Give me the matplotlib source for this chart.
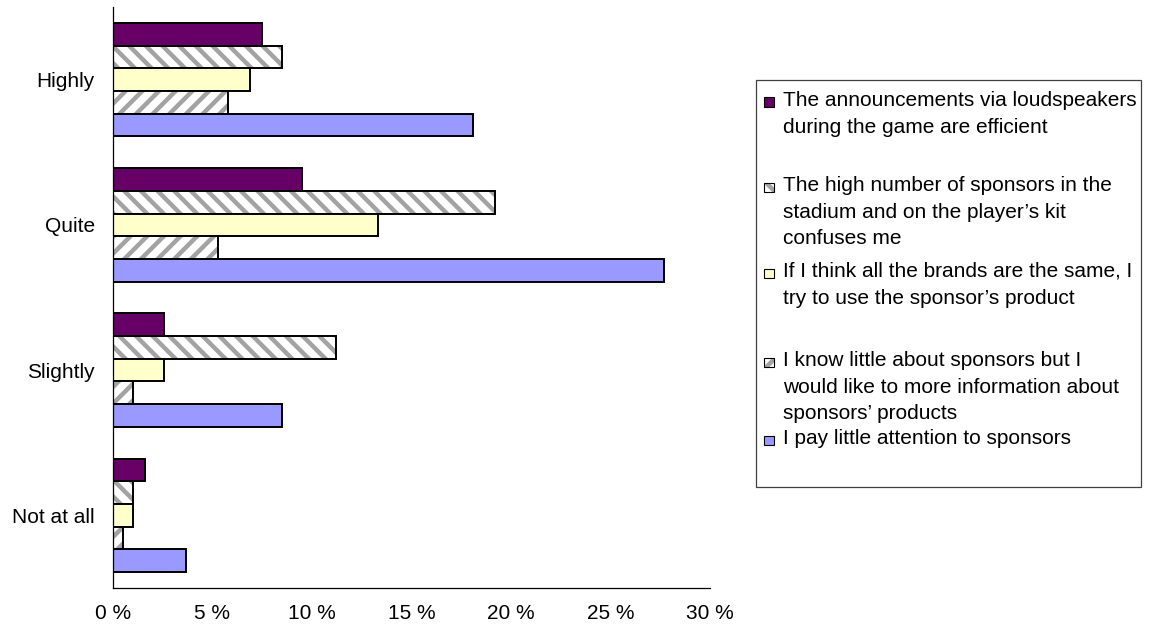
import numpy as np
import matplotlib
matplotlib.use('Agg')
import matplotlib.pyplot as plt
from matplotlib.patches import Rectangle

# share of answers (%) per statement, categories top to bottom
categories = ['Highly', 'Quite', 'Slightly', 'Not at all']
announcements = [7.5, 9.5, 2.6, 1.6]
many_sponsors = [8.5, 19.2, 11.2, 1.0]
same_brands = [6.9, 13.3, 2.6, 1.0]
more_info = [5.8, 5.3, 1.0, 0.5]
little_attention = [18.1, 27.7, 8.5, 3.7]

series_labels = [
    'The announcements via loudspeakers\nduring the game are efficient',
    'The high number of sponsors in the\nstadium and on the player\u2019s kit\nconfuses me',
    'If I think all the brands are the same, I\ntry to use the sponsor\u2019s product',
    'I know little about sponsors but I\nwould like to more information about\nsponsors\u2019 products',
    'I pay little attention to sponsors',
]
xticks = [0, 5, 10, 15, 20, 25, 30]

series = [announcements, many_sponsors, same_brands, more_info, little_attention]
styles = [
    dict(color='#660066', hatch=None),
    dict(color='white', hatch='\\\\'),
    dict(color='#FFFFCC', hatch=None),
    dict(color='white', hatch='//'),
    dict(color='#9999FF', hatch=None),
]

plt.rcParams['font.family'] = ['Liberation Sans', 'DejaVu Sans']
plt.rcParams['font.size'] = 15
plt.rcParams['hatch.linewidth'] = 3.2
HATCH_GREY = '#a3a3a3'
EDGE_LW = 1.4

W, H = 1152, 634
fig = plt.figure(figsize=(W / 100, H / 100), dpi=100)


def fx(px):
    return px / W


def fy(py):
    return 1 - py / H


ax = fig.add_axes([fx(112.7), fy(588), fx(710) - fx(112.7), fy(7) - fy(588)])

bar_h = 0.156
ypos = np.arange(len(categories))
for k, (vals, st) in enumerate(zip(series, styles)):
    pos = ypos + (k - 2) * bar_h
    if st['hatch']:
        # hatch takes the edge colour, so draw the stripes first and the black frame on top
        ax.barh(pos, vals, height=bar_h, color='white', edgecolor=HATCH_GREY,
                hatch=st['hatch'], linewidth=0)
        ax.barh(pos, vals, height=bar_h, fill=False, edgecolor='black', linewidth=EDGE_LW)
    else:
        ax.barh(pos, vals, height=bar_h, color=st['color'], edgecolor='black', linewidth=EDGE_LW)

ax.set_xlim(0, 30)
ax.set_ylim(3.5, -0.5)
ax.set_xticks(xticks)
ax.xaxis.set_major_formatter(lambda v, p: f'{v:.0f} %')
ax.set_yticks(ypos, categories)
ax.tick_params(length=0)
ax.tick_params(axis='y', pad=13)
ax.tick_params(axis='x', pad=11.5)
for side in ['top', 'right']:
    ax.spines[side].set_visible(False)
for side in ['left', 'bottom']:
    ax.spines[side].set_linewidth(0.9)
    ax.spines[side].set_color('black')

# legend drawn by hand so the entries keep their uneven spacing
fig.add_artist(Rectangle((fx(756), fy(487)), fx(1141) - fx(756), fy(80) - fy(487),
                         transform=fig.transFigure, fill=False, edgecolor='#404040', linewidth=0.9))
first_baselines = [106, 191, 277, 366, 444]
line_step = 26.7
mk = 9.5
for label, st, base in zip(series_labels, styles, first_baselines):
    x0, y0 = fx(764), fy(base + 1)
    w, h = fx(764 + mk) - fx(764), fy(base + 1 - mk) - fy(base + 1)
    if st['hatch']:
        fig.add_artist(Rectangle((x0, y0), w, h, transform=fig.transFigure, facecolor='white',
                                 edgecolor=HATCH_GREY, hatch=st['hatch'], linewidth=0))
        fig.add_artist(Rectangle((x0, y0), w, h, transform=fig.transFigure, fill=False,
                                 edgecolor='black', linewidth=0.8))
    else:
        fig.add_artist(Rectangle((x0, y0), w, h, transform=fig.transFigure,
                                 facecolor=st['color'], edgecolor='black', linewidth=0.8))
    for i, line in enumerate(label.split('\n')):
        fig.text(fx(783), fy(base + i * line_step), line, va='baseline', ha='left')

fig.savefig('out.png', dpi=100)
